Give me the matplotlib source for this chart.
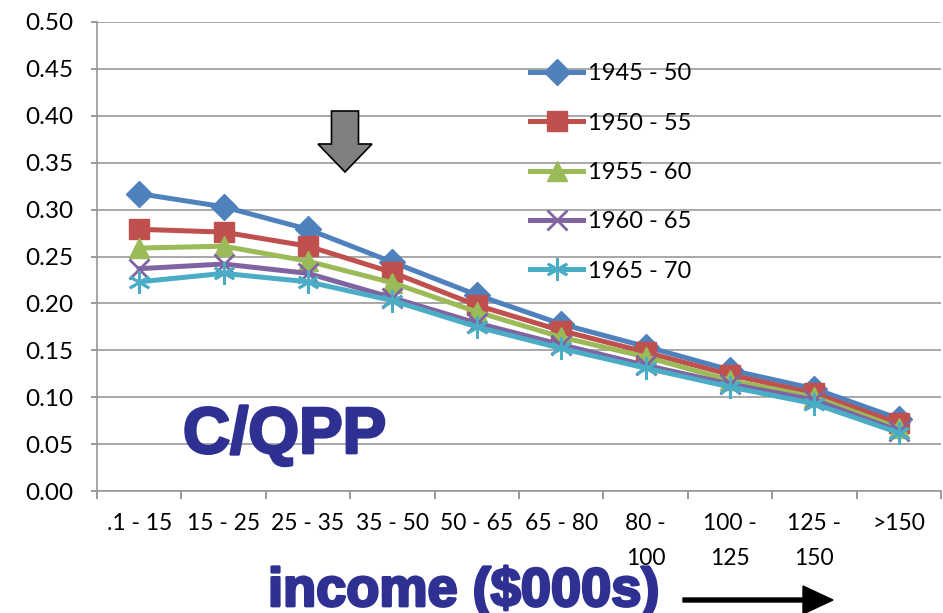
import matplotlib.pyplot as plt
import matplotlib.patheffects as pe
from matplotlib.patches import FancyArrow

# income brackets ($000s)
categories = [".1 - 15", "15 - 25", "25 - 35", "35 - 50", "50 - 65", "65 - 80",
              "80 -\n100", "100 -\n125", "125 -\n150", ">150"]

# birth cohorts
labels = ["1945 - 50", "1950 - 55", "1955 - 60", "1960 - 65", "1965 - 70"]

s1945 = [0.317, 0.303, 0.279, 0.244, 0.209, 0.178, 0.154, 0.129, 0.109, 0.077]
s1950 = [0.279, 0.276, 0.261, 0.233, 0.198, 0.171, 0.148, 0.124, 0.104, 0.072]
s1955 = [0.259, 0.261, 0.245, 0.222, 0.191, 0.164, 0.143, 0.118, 0.100, 0.067]
s1960 = [0.237, 0.242, 0.232, 0.206, 0.179, 0.156, 0.134, 0.114, 0.097, 0.064]
s1965 = [0.223, 0.232, 0.223, 0.203, 0.175, 0.152, 0.131, 0.111, 0.093, 0.062]

series = [s1945, s1950, s1955, s1960, s1965]
colors = ["#4F81BD", "#C0504D", "#9BBB59", "#8064A2", "#4BACC6"]
markers = ["D", "s", "^", "x", (6, 2, 0)]
msizes = [13, 14, 15, 14, 16]

plt.rcParams["font.family"] = ["Lato", "DejaVu Sans"]

fig = plt.figure(figsize=(9.43, 6.13), dpi=100)
ax = fig.add_axes([97 / 943, 1 - 491 / 613, 844 / 943, 469 / 613])

x = list(range(len(categories)))
for vals, lab, c, m, ms in zip(series, labels, colors, markers, msizes):
    ax.plot(x, vals, color=c, lw=3.6, marker=m, markersize=ms,
            markeredgewidth=2 if m in ("x", (6, 2, 0)) else 1,
            label=lab)

ax.set_xlim(-0.5, len(categories) - 0.5)
ax.set_ylim(0, 0.5)
ax.set_yticks([i * 0.05 for i in range(11)])
ax.set_yticklabels([f"{i * 0.05:.2f}" for i in range(11)], fontsize=17.5)
ax.set_xticks(x)
ax.set_xticklabels(categories, fontsize=16.5, linespacing=1.8, va="top")
ax.set_xticks([i - 0.5 for i in range(len(categories) + 1)], minor=True)
ax.tick_params(axis="x", which="major", length=0, pad=16)
ax.tick_params(axis="x", which="minor", length=6, color="#888888", width=1.2)
ax.tick_params(axis="y", length=4, color="#888888", width=1.2, pad=13)
ax.grid(axis="y", color="#999999", lw=1.2)
ax.set_axisbelow(True)
for side in ["top", "right"]:
    ax.spines[side].set_visible(False)
ax.spines["left"].set_color("#999999")
ax.spines["bottom"].set_color("#999999")
ax.spines["left"].set_linewidth(1.2)
ax.spines["bottom"].set_linewidth(1.2)

ax.legend(loc="upper left", bbox_to_anchor=(0.513, 0.912), frameon=False,
          fontsize=17, labelspacing=1.2, handlelength=2.25, handletextpad=0.2,
          borderaxespad=0, borderpad=0)

# annotations
thick = [pe.withStroke(linewidth=2, foreground="#2E3192")]
fig.text(183 / 943, 1 - 453 / 613, "C/QPP", fontsize=47, fontweight="bold",
         color="#2E3192", family="Liberation Sans", va="baseline",
         path_effects=thick)
fig.text(268 / 943, 1 - 606 / 613, "income ($000s)", fontsize=39, fontweight="bold",
         color="#2E3192", family="Liberation Sans", va="baseline",
         path_effects=thick)

fig.patches.append(FancyArrow(683 / 943, 1 - 600 / 613, 150 / 943, 0,
                              width=4 / 613, head_width=28 / 613, head_length=30 / 943,
                              length_includes_head=True,
                              color="black", transform=fig.transFigure))
fig.patches.append(FancyArrow(345 / 943, 1 - 111 / 613, 0, -(61 / 613),
                              width=27 / 943, head_width=54 / 943, head_length=28 / 613,
                              length_includes_head=True, facecolor="#808080",
                              edgecolor="black", lw=1.2, transform=fig.transFigure))

plt.savefig("out.png", dpi=100)
